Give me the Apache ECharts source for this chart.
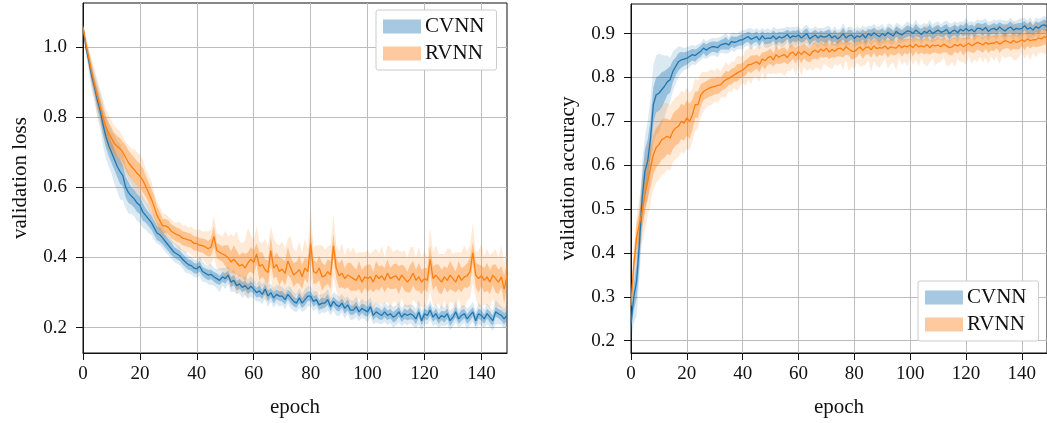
<!DOCTYPE html>
<html><head><meta charset="utf-8">
<script src="https://cdn.jsdelivr.net/npm/echarts@6/dist/echarts.min.js"></script>
<style>html,body{margin:0;padding:0;background:#fff}#c{width:1047px;height:423px}</style>
</head><body><div id="c"></div>
<script>
const lossTicks = [0.2, 0.4, 0.6, 0.8, 1.0];
const accTicks = [0.2, 0.3, 0.4, 0.5, 0.6, 0.7, 0.8, 0.9];
const epochTicks = [0, 20, 40, 60, 80, 100, 120, 140];
const seriesNames = ['CVNN', 'RVNN'];

const lossCvMean = [
1.057,1.00,.962,.92,.887,.85,.82,.78,.745,.72,
.70,.68,.66,.645,.633,.60,.585,.575,.567,.555,
.548,.53,.52,.51,.50,.485,.47,.465,.455,.445,
.435,.425,.415,.41,.405,.395,.387,.38,.377,.37,
.368,.375,.36,.355,.35,.352,.345,.34,.335,.345,
.34,.35,.33,.335,.32,.325,.315,.32,.31,.318,
.31,.30,.305,.295,.31,.29,.30,.285,.295,.29,
.29,.28,.295,.285,.275,.27,.285,.27,.28,.29,
.29,.275,.28,.265,.27,.27,.28,.26,.275,.265,
.26,.27,.255,.265,.25,.25,.26,.245,.255,.25,
.245,.26,.235,.245,.24,.235,.245,.235,.24,.23,
.235,.245,.23,.24,.235,.24,.235,.225,.245,.22,
.24,.235,.25,.23,.24,.225,.235,.23,.24,.22,
.23,.245,.225,.235,.24,.225,.235,.245,.22,.24,
.235,.225,.24,.23,.22,.245,.24,.235,.225,.235];
const lossCvIn = [
.005,.01,.015,.02,.02,.025,.025,.03,.03,.03,
.03,.03,.03,.035,.03,.03,.03,.025,.025,.025,
.025,.025,.02,.02,.02,.02,.02,.02,.018,.018,
.018,.018,.015,.015,.015,.015,.015,.015,.015,.015,
.014,.015,.013,.014,.015,.013,.014,.015,.013,.014,
.015,.013,.014,.015,.013,.014,.015,.013,.014,.015,
.013,.014,.016,.013,.014,.015,.013,.016,.014,.013,
.015,.014,.013,.016,.014,.013,.015,.014,.016,.013,
.014,.015,.013,.014,.016,.013,.015,.014,.013,.015,
.014,.013,.015,.016,.014,.013,.015,.014,.013,.016,
.014,.015,.013,.014,.016,.013,.015,.014,.013,.015,
.016,.014,.013,.015,.014,.016,.013,.015,.014,.013,
.015,.014,.016,.013,.015,.014,.013,.016,.014,.015,
.013,.015,.014,.016,.013,.014,.015,.013,.016,.014,
.015,.013,.014,.016,.015,.014,.013,.015,.016,.014];
const lossCvOut = [
.01,.02,.03,.04,.04,.05,.05,.06,.06,.06,
.06,.07,.07,.08,.07,.06,.06,.05,.05,.05,
.05,.045,.04,.04,.035,.035,.03,.03,.03,.03,
.028,.028,.027,.027,.026,.026,.03,.025,.025,.025,
.025,.028,.03,.024,.026,.03,.025,.027,.035,.025,
.03,.026,.028,.032,.025,.027,.03,.026,.028,.03,
.027,.025,.03,.028,.026,.032,.025,.028,.027,.03,
.026,.028,.025,.03,.027,.026,.029,.025,.03,.028,
.03,.027,.025,.029,.026,.028,.03,.025,.027,.03,
.028,.026,.03,.025,.028,.027,.03,.026,.028,.025,
.03,.027,.026,.03,.028,.025,.029,.027,.026,.03,
.028,.03,.025,.027,.029,.026,.03,.028,.035,.027,
.03,.026,.028,.025,.03,.027,.029,.026,.03,.028,
.027,.03,.026,.028,.025,.03,.027,.029,.026,.03,
.028,.026,.03,.027,.029,.035,.03,.026,.028,.03];

const lossRvMean = [
1.057,1.01,.97,.93,.895,.86,.83,.80,.774,.755,
.74,.725,.717,.71,.70,.685,.67,.66,.65,.64,
.632,.62,.604,.585,.567,.545,.52,.505,.49,.49,
.486,.475,.47,.465,.462,.455,.453,.45,.448,.44,
.44,.435,.434,.43,.425,.43,.46,.42,.415,.41,
.406,.40,.387,.395,.385,.376,.38,.37,.385,.395,
.386,.41,.375,.38,.365,.357,.42,.37,.38,.36,
.367,.355,.39,.37,.35,.357,.365,.345,.37,.36,
.44,.36,.355,.37,.345,.348,.36,.35,.433,.37,
.348,.355,.34,.35,.345,.34,.335,.35,.33,.345,
.34,.345,.33,.35,.34,.348,.335,.355,.34,.345,
.348,.335,.35,.34,.33,.34,.355,.335,.345,.33,
.34,.335,.395,.34,.35,.34,.33,.345,.335,.35,
.34,.33,.35,.335,.345,.348,.36,.414,.35,.34,
.348,.335,.345,.33,.35,.34,.33,.345,.31,.348];
const lossRvIn = [
.005,.01,.015,.02,.02,.025,.025,.025,.03,.03,
.03,.03,.03,.03,.03,.035,.035,.035,.035,.035,
.035,.035,.03,.03,.03,.03,.025,.025,.02,.02,
.02,.02,.02,.02,.02,.02,.02,.02,.02,.02,
.02,.02,.02,.022,.022,.025,.03,.022,.022,.022,
.03,.035,.03,.04,.035,.03,.035,.04,.03,.035,
.035,.03,.04,.035,.03,.035,.04,.03,.035,.04,
.03,.035,.04,.03,.035,.03,.04,.035,.03,.035,
.04,.035,.03,.035,.04,.03,.035,.04,.035,.03,
.035,.04,.03,.035,.04,.035,.03,.04,.035,.03,
.04,.035,.03,.04,.035,.03,.035,.04,.03,.035,
.035,.04,.03,.035,.03,.04,.035,.03,.04,.035,
.03,.035,.04,.035,.03,.04,.035,.03,.035,.04,
.035,.03,.04,.035,.03,.035,.04,.03,.035,.04,
.03,.035,.04,.035,.03,.04,.035,.03,.04,.035];
const lossRvOut = [
.01,.02,.03,.04,.045,.05,.05,.05,.05,.05,
.05,.05,.05,.05,.045,.045,.05,.05,.06,.06,
.06,.06,.05,.05,.05,.04,.04,.04,.035,.035,
.03,.035,.03,.035,.04,.035,.04,.035,.04,.04,
.04,.045,.04,.045,.05,.05,.06,.05,.05,.05,
.07,.06,.08,.065,.09,.07,.06,.08,.1,.07,
.065,.08,.07,.06,.09,.075,.07,.085,.06,.075,
.08,.07,.065,.09,.075,.06,.08,.07,.085,.065,
.1,.07,.08,.065,.09,.075,.07,.085,.09,.065,
.07,.085,.065,.08,.07,.09,.075,.065,.085,.07,
.08,.065,.09,.075,.07,.085,.065,.08,.09,.07,
.075,.085,.065,.08,.07,.09,.075,.065,.085,.07,
.08,.065,.09,.075,.085,.07,.08,.065,.09,.075,
.07,.085,.065,.08,.09,.07,.075,.085,.065,.08,
.09,.07,.08,.075,.065,.085,.07,.09,.075,.08];

const accCvMean = [
.238,.30,.336,.42,.526,.586,.61,.662,.738,.76,
.764,.772,.78,.79,.795,.814,.825,.836,.84,.842,
.844,.848,.852,.85,.855,.86,.867,.862,.867,.87,
.87,.868,.874,.876,.878,.874,.882,.88,.882,.885,
.886,.89,.893,.887,.89,.893,.885,.895,.888,.89,
.889,.895,.887,.893,.89,.893,.898,.89,.895,.893,
.897,.89,.895,.9,.888,.893,.897,.89,.895,.892,
.893,.898,.89,.895,.888,.893,.9,.89,.895,.897,
.889,.895,.892,.898,.89,.9,.895,.902,.897,.893,
.9,.895,.903,.898,.895,.905,.9,.897,.902,.906,
.905,.9,.908,.903,.898,.905,.902,.908,.9,.904,
.908,.903,.905,.91,.9,.905,.908,.902,.91,.906,
.912,.906,.91,.904,.912,.912,.908,.914,.905,.91,
.912,.908,.915,.91,.906,.912,.915,.908,.912,.91,
.912,.918,.91,.914,.908,.916,.912,.918,.92,.916];
const accCvIn = [
.02,.03,.04,.05,.05,.05,.05,.04,.04,.04,
.04,.04,.035,.03,.03,.025,.02,.02,.018,.015,
.015,.014,.013,.014,.012,.013,.012,.014,.013,.012,
.012,.013,.011,.012,.014,.011,.012,.013,.011,.012,
.013,.011,.012,.014,.011,.012,.013,.011,.012,.013,
.011,.012,.014,.011,.013,.012,.011,.014,.012,.013,
.012,.011,.013,.012,.014,.011,.012,.013,.011,.012,
.014,.012,.011,.013,.012,.011,.014,.012,.013,.011,
.012,.013,.011,.012,.014,.011,.013,.012,.011,.014,
.013,.011,.012,.014,.011,.012,.013,.011,.012,.013,
.011,.012,.014,.011,.013,.012,.011,.014,.012,.013,
.012,.011,.013,.012,.014,.011,.012,.013,.011,.012,
.014,.012,.011,.013,.012,.011,.014,.012,.013,.011,
.012,.013,.011,.012,.014,.011,.013,.012,.011,.014,
.013,.011,.012,.014,.011,.012,.013,.011,.012,.013];
const accCvOut = [
.04,.06,.08,.08,.08,.08,.09,.09,.09,.09,
.09,.08,.07,.06,.05,.045,.04,.035,.03,.025,
.025,.024,.022,.022,.02,.02,.022,.02,.02,.02,
.02,.022,.018,.02,.024,.018,.02,.022,.018,.02,
.022,.018,.02,.025,.018,.02,.022,.018,.02,.022,
.018,.02,.024,.018,.022,.02,.018,.024,.02,.022,
.02,.018,.022,.02,.024,.018,.02,.022,.018,.02,
.024,.02,.018,.022,.02,.018,.024,.02,.022,.018,
.02,.022,.018,.02,.024,.018,.022,.02,.018,.024,
.022,.018,.02,.024,.018,.02,.022,.018,.02,.022,
.018,.02,.024,.018,.022,.02,.018,.024,.02,.022,
.02,.018,.022,.02,.024,.018,.02,.022,.018,.02,
.024,.02,.018,.022,.02,.018,.024,.02,.022,.018,
.02,.022,.018,.02,.024,.018,.022,.02,.018,.024,
.022,.018,.02,.024,.018,.02,.022,.018,.02,.022];

const accRvMean = [
.28,.374,.435,.465,.495,.533,.564,.594,.624,.64,
.647,.658,.662,.666,.662,.677,.685,.689,.70,.696,
.708,.70,.715,.738,.738,.76,.768,.772,.776,.778,
.78,.782,.783,.79,.795,.798,.802,.806,.81,.814,
.817,.822,.829,.83,.833,.836,.83,.842,.838,.845,
.848,.84,.852,.846,.85,.852,.845,.855,.858,.85,
.859,.852,.86,.855,.85,.859,.862,.857,.865,.86,
.867,.858,.864,.86,.866,.867,.862,.87,.865,.86,
.859,.865,.87,.862,.868,.87,.863,.872,.866,.868,
.867,.872,.865,.87,.868,.867,.874,.868,.872,.87,
.874,.868,.876,.87,.872,.87,.875,.868,.874,.872,
.874,.87,.876,.872,.868,.87,.875,.872,.876,.87,
.874,.878,.872,.876,.88,.878,.874,.88,.876,.878,
.878,.882,.876,.88,.884,.882,.878,.885,.88,.882,
.886,.882,.888,.884,.886,.886,.89,.888,.893,.89];
const accRvIn = [
.01,.02,.03,.03,.035,.04,.04,.045,.045,.045,
.045,.045,.045,.04,.04,.04,.04,.04,.04,.04,
.04,.04,.035,.03,.03,.025,.02,.02,.02,.02,
.018,.02,.016,.018,.02,.015,.018,.016,.02,.017,
.016,.018,.015,.02,.017,.016,.018,.015,.02,.016,
.018,.015,.02,.016,.018,.017,.015,.02,.016,.018,
.015,.02,.016,.018,.015,.017,.02,.016,.018,.015,
.02,.016,.018,.015,.017,.02,.016,.018,.015,.02,
.016,.018,.015,.02,.016,.017,.018,.015,.02,.016,
.018,.015,.02,.016,.018,.015,.017,.02,.016,.018,
.015,.02,.016,.018,.015,.017,.02,.016,.018,.015,
.02,.016,.018,.015,.017,.02,.016,.018,.015,.02,
.016,.018,.015,.02,.016,.017,.018,.015,.02,.016,
.018,.015,.02,.016,.018,.015,.017,.02,.016,.018,
.015,.02,.016,.018,.015,.017,.02,.016,.018,.015];
const accRvOut = [
.02,.04,.05,.06,.07,.08,.08,.08,.08,.08,
.08,.08,.08,.075,.075,.07,.07,.07,.07,.07,
.07,.065,.06,.06,.055,.05,.045,.04,.04,.04,
.035,.04,.03,.035,.04,.03,.035,.03,.04,.035,
.03,.04,.035,.045,.03,.035,.04,.03,.045,.035,
.04,.03,.045,.035,.04,.05,.03,.04,.035,.045,
.03,.05,.035,.04,.03,.045,.04,.035,.05,.03,
.04,.035,.045,.03,.04,.035,.045,.03,.05,.035,
.04,.03,.045,.035,.04,.03,.05,.035,.04,.045,
.035,.03,.045,.04,.035,.05,.03,.04,.035,.045,
.03,.04,.035,.045,.03,.04,.05,.035,.03,.045,
.04,.035,.03,.045,.04,.035,.05,.03,.04,.035,
.045,.03,.04,.035,.045,.03,.04,.035,.045,.03,
.04,.035,.045,.03,.04,.035,.03,.045,.04,.035,
.03,.04,.035,.045,.03,.04,.035,.03,.04,.035];

const epochs = lossCvMean.map((_, i) => i);

const FONT = 'Liberation Serif';
const BLUE = '#1f77b4', ORANGE = '#ff7f0e';
const rgba = (hex, a) => {
  const n = parseInt(hex.slice(1), 16);
  return `rgba(${(n >> 16) & 255},${(n >> 8) & 255},${n & 255},${a})`;
};

// band drawn as one polygon through the axes' own coordinate mapping
function band(gi, mean, spread, color, alpha) {
  const data = epochs.map((e, i) => [e, mean[i] - spread[i], mean[i] + spread[i]]);
  return {
    type: 'custom', xAxisIndex: gi, yAxisIndex: gi, silent: true, clip: true, animation: false,
    encode: { x: 0, y: [1, 2] },
    data,
    renderItem(params, api) {
      if (params.dataIndex !== 0) return null;
      const lower = data.map(d => api.coord([d[0], d[1]]));
      const upper = data.map(d => api.coord([d[0], d[2]])).reverse();
      return { type: 'polygon', shape: { points: lower.concat(upper) },
        style: { fill: rgba(color, alpha), stroke: null } };
    }
  };
}
function meanLine(gi, mean, color) {
  return { type: 'line', xAxisIndex: gi, yAxisIndex: gi, symbol: 'none', silent: true,
    data: epochs.map((e, i) => [e, mean[i]]), lineStyle: { color, width: 1.3 }, animation: false };
}
function group(gi, mean, inner, outer, color) {
  return [band(gi, mean, outer, color, 0.16), band(gi, mean, inner, color, 0.36), meanLine(gi, mean, color)];
}

const labelStyle = { fontFamily: FONT, fontSize: 19, color: '#111' };
const GRIDC = '#bcbcbc';
function xAxis(gi, max) {
  return { type: 'value', gridIndex: gi, min: 0, max,
    name: 'epoch', nameLocation: 'middle', nameGap: 44,
    nameTextStyle: { fontFamily: FONT, fontSize: 21, color: '#111' },
    axisLine: { show: true, onZero: false, lineStyle: { color: '#111', width: 1 } },
    axisTick: { show: true, length: 7, customValues: epochTicks, lineStyle: { color: '#111' } },
    axisLabel: Object.assign({ customValues: epochTicks, margin: 12 }, labelStyle),
    splitLine: { show: true, lineStyle: { color: GRIDC, width: 1 } } };
}
function yAxis(gi, min, max, ticks, name) {
  return { type: 'value', gridIndex: gi, min, max,
    name, nameLocation: 'middle', nameGap: 52,
    nameTextStyle: { fontFamily: FONT, fontSize: 21, color: '#111' },
    axisLine: { show: true, onZero: false, lineStyle: { color: '#111', width: 1 } },
    axisTick: { show: true, length: 7, customValues: ticks, lineStyle: { color: '#111' } },
    axisLabel: Object.assign({ customValues: ticks, margin: 16, formatter: v => v.toFixed(1) }, labelStyle),
    splitLine: { show: true, lineStyle: { color: GRIDC, width: 1 } } };
}
function legend(left, top) {
  return { left, top, orient: 'vertical', backgroundColor: '#fff', borderColor: '#cccccc', borderWidth: 1,
    borderRadius: 2, padding: [6, 12, 6, 7], itemGap: 6, itemWidth: 38, itemHeight: 14,
    textStyle: { fontFamily: FONT, fontSize: 21, color: '#111', padding: [0, 0, 0, -1] },
    data: [{ name: seriesNames[0], icon: 'rect', itemStyle: { color: '#a6c8e1' } },
           { name: seriesNames[1], icon: 'rect', itemStyle: { color: '#ffc99f' } }] };
}

const series = [].concat(
  group(0, lossCvMean, lossCvIn, lossCvOut, BLUE),
  group(0, lossRvMean, lossRvIn, lossRvOut, ORANGE),
  group(1, accCvMean, accCvIn, accCvOut, BLUE),
  group(1, accRvMean, accRvIn, accRvOut, ORANGE),
  [{ type: 'bar', name: seriesNames[0], xAxisIndex: 0, yAxisIndex: 0, data: [], itemStyle: { color: '#a6c8e1' } },
   { type: 'bar', name: seriesNames[1], xAxisIndex: 0, yAxisIndex: 0, data: [], itemStyle: { color: '#ffc99f' } }]
);

const chart = echarts.init(document.getElementById('c'), null, { renderer: 'canvas' });
chart.setOption({
  animation: false,
  backgroundColor: '#fff',
  grid: [
    { left: 83, right: 540, top: 3, bottom: 69, show: true, borderColor: '#111', borderWidth: 1, backgroundColor: 'transparent' },
    { left: 631, right: -2, top: 4, bottom: 69, show: true, borderColor: '#111', borderWidth: 1, backgroundColor: 'transparent' }
  ],
  xAxis: [xAxis(0, 149), xAxis(1, 149)],
  yAxis: [yAxis(0, 0.128, 1.125, lossTicks, 'validation loss'), yAxis(1, 0.172, 0.9675, accTicks, 'validation accuracy')],
  legend: [legend(376, 10), legend(918, 281)],
  series
});
</script></body></html>
